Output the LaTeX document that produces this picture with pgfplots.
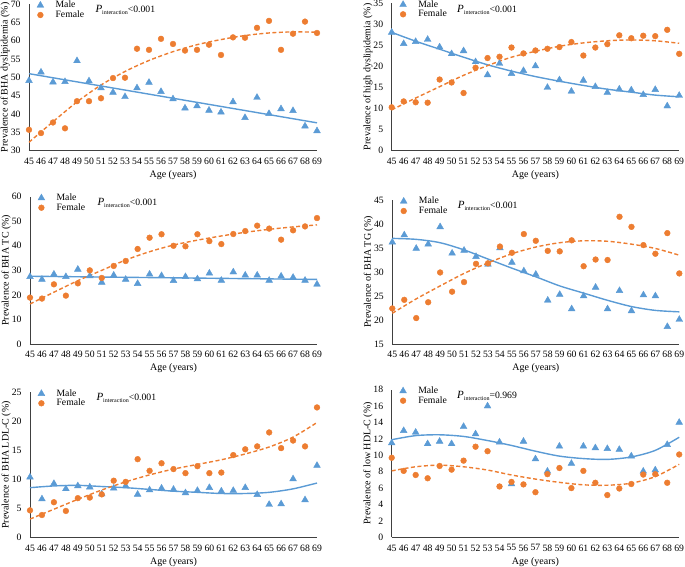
\documentclass[border=0pt]{standalone}
\usepackage{fontspec}
\setmainfont{Liberation Serif}
\usepackage{pgfplots}
\usepackage{pgfplotstable}
\pgfplotsset{compat=1.18}

\definecolor{mblue}{HTML}{5B9BD5}
\definecolor{forange}{HTML}{ED7D31}
\newcommand\fs{\fontsize{9.7bp}{11bp}\selectfont}
\newcommand\lfs{\fontsize{10bp}{11bp}\selectfont}
\newcommand\pint[1]{{\fontsize{11bp}{11bp}\selectfont\textit{P}}\raisebox{-0.45ex}{\fontsize{6bp}{6bp}\selectfont interaction}#1}

% age, male, female (%)
\pgfplotstableread{
age m f
45 49.1 35.7
46 51.4 34.8
47 48.7 37.7
48 48.8 36.1
49 54.5 43.5
50 49.0 43.5
51 47.1 44.3
52 45.9 49.8
53 44.7 49.9
54 47.1 57.8
55 48.6 57.5
56 46.1 60.5
57 44.1 59.1
58 41.6 57.3
59 42.2 57.5
60 41.0 58.9
61 40.5 56.1
62 43.3 60.9
63 39.0 60.8
64 44.5 63.5
65 40.1 65.4
66 41.4 57.5
67 40.9 61.9
68 36.7 65.2
69 35.4 62.1
}\dyslip

\pgfplotstableread{
age m f
45 28.1 10.3
46 25.4 11.7
47 25.9 11.5
48 26.4 11.4
49 24.6 16.9
50 23.0 16.2
51 23.7 13.7
52 21.1 19.7
53 18.0 22.0
54 20.7 22.3
55 18.3 24.5
56 19.0 23.1
57 20.1 23.8
58 15.0 24.2
59 16.8 24.6
60 14.1 25.8
61 16.7 22.6
62 15.2 24.5
63 13.8 25.3
64 14.6 27.4
65 14.4 26.7
66 13.3 27.3
67 14.5 27.2
68 10.6 28.7
69 13.1 23.0
}\highdys

\pgfplotstableread{
age m f
45 27.4 18.9
46 26.3 18.5
47 28.4 24.3
48 27.4 19.7
49 30.4 24.7
50 27.7 30.0
51 25.1 26.9
52 28.0 31.8
53 26.3 33.8
54 24.6 38.7
55 28.4 43.3
56 27.8 44.7
57 25.8 40.0
58 27.4 39.8
59 26.5 44.7
60 28.8 41.9
61 25.9 40.7
62 29.3 44.8
63 28.0 46.0
64 28.0 48.2
65 25.9 47.0
66 27.6 42.5
67 27.1 46.3
68 25.9 47.9
69 24.3 51.3
}\tc

\pgfplotstableread{
age m f
45 36.2 22.4
46 37.7 24.2
47 34.9 20.4
48 35.8 23.7
49 39.4 29.9
50 33.9 25.9
51 34.5 27.9
52 33.2 31.7
53 31.6 31.8
54 35.0 35.3
55 32.0 34.0
56 30.2 37.9
57 29.5 36.5
58 24.1 34.4
59 25.3 34.3
60 22.3 36.6
61 25.0 31.2
62 26.8 32.6
63 22.3 32.5
64 26.1 41.5
65 21.9 39.4
66 25.2 35.6
67 25.0 33.8
68 18.6 38.1
69 20.1 29.7
}\tg

\pgfplotstableread{
age m f
45 10.4 4.7
46 6.65 3.9
47 9.3 6.1
48 8.4 4.6
49 8.9 6.8
50 8.7 6.9
51 7.5 7.45
52 8.5 9.8
53 8.9 9.6
54 7.45 13.5
55 8.2 11.5
56 8.5 12.8
57 8.3 11.8
58 7.7 11.1
59 8.1 12.3
60 8.6 11.1
61 8.0 11.2
62 8.1 14.2
63 8.6 15.2
64 7.4 15.7
65 5.7 18.1
66 5.8 15.4
67 10.1 16.7
68 6.5 15.7
69 12.4 22.4
}\ldl

\pgfplotstableread{
age m f
45 11.5 9.7
46 13.0 8.1
47 12.8 7.6
48 11.4 7.2
49 11.7 8.7
50 11.4 8.25
51 13.5 9.35
52 12.6 11.05
53 16.0 10.5
54 11.6 6.2
55 6.5 6.75
56 11.7 6.45
57 9.55 5.5
58 8.05 7.7
59 11.1 8.45
60 9.0 6.0
61 11.1 8.1
62 10.9 6.65
63 10.8 5.15
64 10.7 5.95
65 9.9 6.5
66 8.05 7.65
67 8.2 7.7
68 11.3 6.65
69 14.0 10.1
}\hdl

% trend lines
\pgfplotstableread{
age m f
45 28.1 9.7
47 26.0 12.5
49 24.1 15.2
51 22.2 17.9
53 20.4 20.2
55 18.9 22.2
57 17.6 23.6
59 16.5 24.8
61 15.5 25.6
63 14.6 26.1
65 13.9 26.3
67 13.2 26.1
69 12.8 25.5
}\highdysfit

\pgfplotstableread{
age m f
45 37.0 21.4
47 36.8 24.4
49 36.1 27.1
51 34.6 29.7
53 32.7 31.9
55 30.8 33.8
57 29.0 35.2
59 27.1 36.1
61 25.6 36.5
63 24.1 36.4
65 22.8 35.8
67 22.0 34.9
69 21.7 33.5
}\tgfit

\pgfplotstableread{
age m f
45 8.6 3.2
47 8.9 4.9
49 9.0 6.6
51 8.8 8.2
53 8.6 9.6
55 8.3 10.8
57 8.0 11.8
59 7.8 12.6
61 7.6 13.4
63 7.6 14.4
65 7.8 15.6
67 8.4 17.3
69 9.4 19.8
}\ldlfit

\pgfplotstableread{
age m f
45 11.9 8.1
47 12.4 8.6
49 12.5 8.8
51 12.3 8.6
53 11.8 8.2
55 11.2 7.6
57 10.5 7.1
59 9.9 6.7
61 9.6 6.4
63 9.5 6.35
65 9.8 6.6
67 10.6 7.4
69 12.2 8.9
}\hdlfit

\pgfplotsset{
  panel/.style={
    scale only axis, anchor=south west,
    xmin=45, xmax=69, xtick={45,...,69},
    axis lines=left, axis line style={-, black!75, line width=0.8bp},
    major tick length=0pt,
    tick label style={font=\fs},
    xticklabel style={yshift=-3.8bp},
    yticklabel style={xshift=-5bp},
    /pgf/number format/assume math mode=true,
    label style={font=\lfs},
    xlabel={Age (years)},
    xlabel style={at={(axis description cs:0.5,-0.165)}, anchor=center},
    ylabel style={at={(axis description cs:-0.083,0.5)}, anchor=center},
    clip=false,
    legend cell align=left,
    legend style={draw=none, fill=none, font=\fs, inner sep=0pt,
      at={(rel axis cs:0,1)}, anchor=north west, xshift=7bp, yshift=5bp,
      row sep=-2.5bp},
    legend image code/.code={\draw[##1] plot coordinates {(0bp,0bp)};
      \path (-4bp,0bp) (13bp,0bp);},
  },
  male/.style={only marks, mark=triangle*, mark size=3.9bp, color=mblue},
  female/.style={only marks, mark=*, mark size=2.9bp, color=forange},
  mfit/.style={no marks, mblue, line width=1.4bp, smooth, forget plot},
  ffit/.style={no marks, forange, line width=1.4bp, smooth,
    dash pattern=on 4bp off 2.5bp, forget plot},
}

\begin{document}
\begin{tikzpicture}
\path[use as bounding box] (0,0) rectangle (685bp,567bp);

% top left
\begin{axis}[panel, at={(29bp,416.3bp)}, width=288bp, height=146.7bp,
  ymin=30, ymax=70, ytick={30,35,...,70},
  ylabel={Prevalence of BHA dyslipidemia (\%)}]
\addplot[male] table[x=age,y=m] {\dyslip};
\addplot[female] table[x=age,y=f] {\dyslip};
\addplot[mfit] coordinates {(45,51.0) (69,37.6)};
\addplot[ffit] coordinates {(45,32.3) (47,37.9) (49,43.3) (51,47.9) (53,51.6)
  (55,54.6) (57,57.0) (59,58.9) (61,60.3) (63,61.4) (65,62.1) (67,62.4) (69,62.3)};
\legend{Male, Female}
\node[anchor=base west, font=\fs, xshift=63bp, yshift=-8.5bp] at (rel axis cs:0,1) {\pint{<0.001}};
\end{axis}

% top right
\begin{axis}[panel, at={(391.7bp,416.3bp)}, width=287.5bp, height=147.4bp,
  ymin=0, ymax=35, ytick={0,5,...,35},
  ylabel={Prevalence of high dyslipidemia (\%)}]
\addplot[male] table[x=age,y=m] {\highdys};
\addplot[female] table[x=age,y=f] {\highdys};
\addplot[mfit] table[x=age,y=m] {\highdysfit};
\addplot[ffit] table[x=age,y=f] {\highdysfit};
\legend{Male, Female}
\node[anchor=base west, font=\fs, xshift=62bp, yshift=-9bp] at (rel axis cs:0,1) {\pint{<0.001}};
\end{axis}

% middle left
\begin{axis}[panel, at={(30bp,223bp)}, width=287bp, height=147.3bp,
  ymin=0, ymax=60, ytick={0,10,...,60},
  ylabel={Prevalence of BHA TC (\%)}]
\addplot[male] table[x=age,y=m] {\tc};
\addplot[female] table[x=age,y=f] {\tc};
\addplot[mfit] coordinates {(45,27.6) (69,26.3)};
\addplot[ffit] coordinates {(45,16.3) (47,21.1) (49,25.8) (51,30.0) (53,34.2)
  (55,37.6) (57,40.3) (59,42.3) (61,44.0) (63,45.5) (65,46.7) (67,47.7) (69,48.5)};
\legend{Male, Female}
\node[anchor=base west, font=\fs, xshift=64bp, yshift=-8.5bp] at (rel axis cs:0,1) {\pint{<0.001}};
\end{axis}

% middle right
\begin{axis}[panel, at={(392.3bp,223bp)}, width=287bp, height=144bp,
  ymin=15, ymax=45, ytick={15,20,...,45},
  ylabel={Prevalence of BHA TG (\%)}]
\addplot[male] table[x=age,y=m] {\tg};
\addplot[female] table[x=age,y=f] {\tg};
\addplot[mfit] table[x=age,y=m] {\tgfit};
\addplot[ffit] table[x=age,y=f] {\tgfit};
\legend{Male, Female}
\node[anchor=base west, font=\fs, xshift=62bp, yshift=-8.5bp] at (rel axis cs:0,1) {\pint{<0.001}};
\end{axis}

% bottom left
\begin{axis}[panel, at={(30bp,29.3bp)}, width=287bp, height=145.4bp,
  ymin=0, ymax=25, ytick={0,5,...,25},
  ylabel={Prevalence of BHA LDL-C (\%)}]
\addplot[male] table[x=age,y=m] {\ldl};
\addplot[female] table[x=age,y=f] {\ldl};
\addplot[mfit] table[x=age,y=m] {\ldlfit};
\addplot[ffit] table[x=age,y=f] {\ldlfit};
\legend{Male, Female}
\node[anchor=base west, font=\fs, xshift=63bp, yshift=-8.5bp] at (rel axis cs:0,1) {\pint{<0.001}};
\end{axis}

% bottom right
\begin{axis}[panel, at={(391.7bp,29.7bp)}, width=287.5bp, height=147.6bp,
  ymin=0, ymax=18, ytick={0,2,...,18},
  ylabel={Prevalence of low HDL-C (\%)}]
\addplot[male] table[x=age,y=m] {\hdl};
\addplot[female] table[x=age,y=f] {\hdl};
\addplot[mfit] table[x=age,y=m] {\hdlfit};
\addplot[ffit] table[x=age,y=f] {\hdlfit};
\legend{Male, Female}
\node[anchor=base west, font=\fs, xshift=62bp, yshift=-9bp] at (rel axis cs:0,1) {\pint{=0.969}};
\end{axis}
\end{tikzpicture}
\end{document}
